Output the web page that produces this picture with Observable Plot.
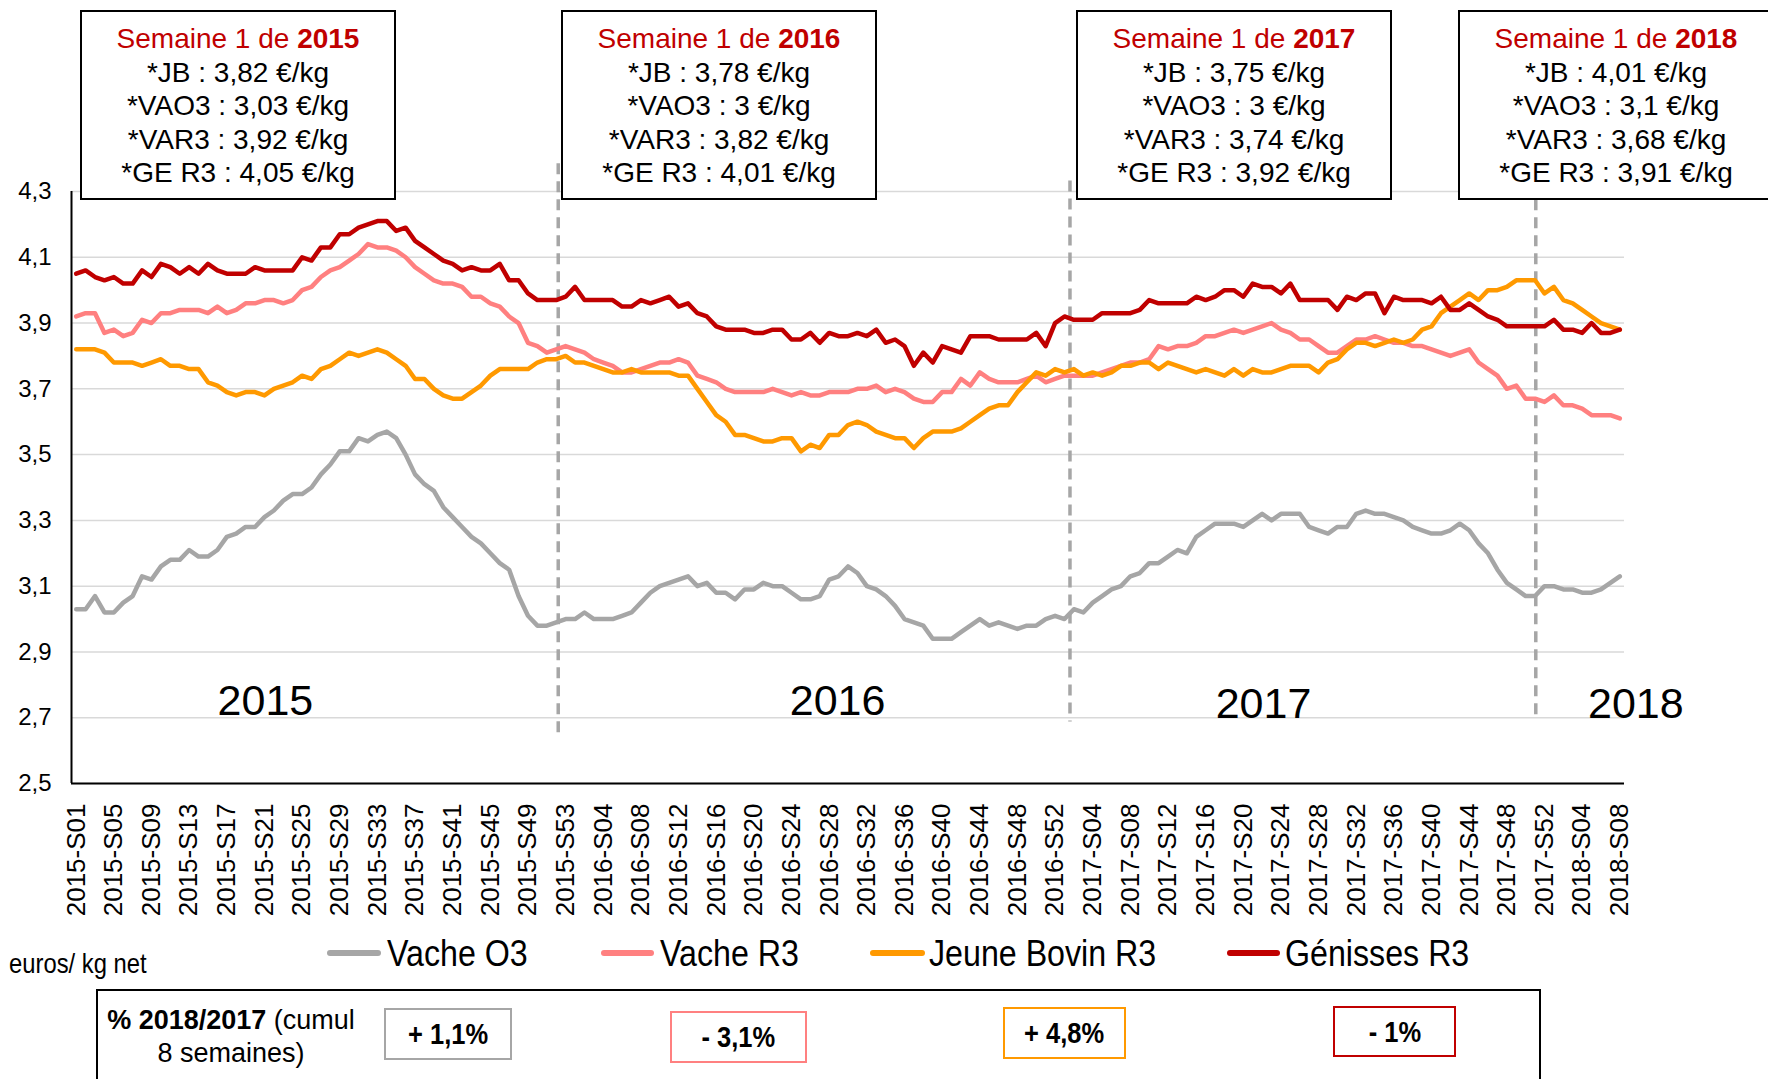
<!DOCTYPE html>
<html><head><meta charset="utf-8">
<script src="https://cdn.jsdelivr.net/npm/d3@7"></script>
<script src="https://cdn.jsdelivr.net/npm/@observablehq/plot@0.6"></script>
<style>
html,body{margin:0;padding:0;background:#fff;}
body{width:1768px;height:1079px;position:relative;overflow:hidden;font-family:"Liberation Sans",Arial,sans-serif;color:#000;}
#chart{position:absolute;left:0;top:0;}
.box{position:absolute;top:10px;height:190px;width:316px;box-sizing:border-box;border:2px solid #000;background:#fff;text-align:center;font-size:28px;line-height:33.5px;padding-top:10px;white-space:nowrap;}
.box .t{color:#C00000;}
.leg{position:absolute;top:953px;transform:translateY(-50%) scaleX(0.87);transform-origin:left center;font-size:37px;white-space:nowrap;line-height:1;}
.sw{position:absolute;top:950px;height:6px;border-radius:3px;}
.unit{position:absolute;left:9px;top:964px;transform:translateY(-50%) scaleX(0.85);transform-origin:left center;font-size:28px;white-space:nowrap;line-height:1;}
.bottom{position:absolute;left:96px;top:989px;width:1445px;height:120px;box-sizing:border-box;border:2px solid #000;background:#fff;}
.cum{position:absolute;left:231px;top:1004px;transform:translateX(-50%);font-size:27px;line-height:33px;text-align:center;white-space:nowrap;}
.chg{position:absolute;box-sizing:border-box;border:2px solid;display:flex;align-items:center;justify-content:center;font-weight:bold;font-size:30px;background:#fff;}
.chg span{display:inline-block;transform:scaleX(0.85);white-space:nowrap;}
</style>
</head><body>
<div id="chart"></div>
<script>
// ---- categories ----
const yearWeeks = [[2015, 53], [2016, 52], [2017, 52], [2018, 8]];
const weeks = yearWeeks.flatMap(([y, n]) => d3.range(1, n + 1).map(w => `${y}-S${String(w).padStart(2, "0")}`));
const tickWeeks = weeks.filter((w, i) => i % 4 === 0);
const yTicks = [2.5, 2.7, 2.9, 3.1, 3.3, 3.5, 3.7, 3.9, 4.1, 4.3];

// ---- series (euros / kg net) ----
const vacheO3 = [3.03,3.03,3.07,3.02,3.02,3.05,3.07,3.13,3.12,3.16,3.18,3.18,3.21,3.19,3.19,3.21,3.25,3.26,3.28,3.28,3.31,3.33,3.36,3.38,3.38,3.40,3.44,3.47,
3.51,3.51,3.55,3.54,3.56,3.57,3.55,3.50,3.44,3.41,3.39,3.34,3.31,3.28,3.25,3.23,3.20,3.17,3.15,3.07,3.01,2.98,2.98,2.99,3.00,3.00,3.02,3.00,3.00,3.00,3.01,3.02,3.05,
3.08,3.10,3.11,3.12,3.13,3.10,3.11,3.08,3.08,3.06,3.09,3.09,3.11,3.10,3.10,3.08,3.06,3.06,3.07,3.12,3.13,3.16,3.14,3.10,3.09,3.07,3.04,3.00,2.99,2.98,2.94,2.94,2.94,2.96,2.98,
3.00,2.98,2.99,2.98,2.97,2.98,2.98,3.00,3.01,3.00,3.03,3.02,3.05,3.07,3.09,3.10,3.13,3.14,3.17,3.17,3.19,3.21,3.20,3.25,3.27,3.29,3.29,3.29,3.28,3.30,3.32,3.30,3.32,3.32,3.32,
3.28,3.27,3.26,3.28,3.28,3.32,3.33,3.32,3.32,3.31,3.30,3.28,3.27,3.26,3.26,3.27,3.29,3.27,3.23,3.20,3.15,3.11,3.09,3.07,3.07,3.10,3.10,3.09,3.09,3.08,3.08,3.09,3.11,3.13];
const vacheR3 = [3.92,3.93,3.93,3.87,3.88,3.86,3.87,3.91,3.90,3.93,3.93,3.94,3.94,3.94,3.93,3.95,3.93,3.94,3.96,3.96,3.97,3.97,3.96,3.97,4.00,4.01,4.04,4.06,
4.07,4.09,4.11,4.14,4.13,4.13,4.12,4.10,4.07,4.05,4.03,4.02,4.02,4.01,3.98,3.98,3.96,3.95,3.92,3.90,3.84,3.83,3.81,3.82,3.83,3.82,3.81,3.79,3.78,3.77,3.75,3.75,3.76,
3.77,3.78,3.78,3.79,3.78,3.74,3.73,3.72,3.70,3.69,3.69,3.69,3.69,3.70,3.69,3.68,3.69,3.68,3.68,3.69,3.69,3.69,3.70,3.70,3.71,3.69,3.70,3.69,3.67,3.66,3.66,3.69,3.69,3.73,3.71,
3.75,3.73,3.72,3.72,3.72,3.73,3.74,3.72,3.73,3.74,3.74,3.74,3.74,3.75,3.76,3.77,3.78,3.78,3.79,3.83,3.82,3.83,3.83,3.84,3.86,3.86,3.87,3.88,3.87,3.88,3.89,3.90,3.88,3.87,3.85,
3.85,3.83,3.81,3.81,3.83,3.85,3.85,3.86,3.85,3.84,3.84,3.83,3.83,3.82,3.81,3.80,3.81,3.82,3.78,3.76,3.74,3.70,3.71,3.67,3.67,3.66,3.68,3.65,3.65,3.64,3.62,3.62,3.62,3.61];
const jeuneBovinR3 = [3.82,3.82,3.82,3.81,3.78,3.78,3.78,3.77,3.78,3.79,3.77,3.77,3.76,3.76,3.72,3.71,3.69,3.68,3.69,3.69,3.68,3.70,3.71,3.72,3.74,3.73,3.76,3.77,
3.79,3.81,3.80,3.81,3.82,3.81,3.79,3.77,3.73,3.73,3.70,3.68,3.67,3.67,3.69,3.71,3.74,3.76,3.76,3.76,3.76,3.78,3.79,3.79,3.80,3.78,3.78,3.77,3.76,3.75,3.75,3.76,3.75,
3.75,3.75,3.75,3.74,3.74,3.70,3.66,3.62,3.60,3.56,3.56,3.55,3.54,3.54,3.55,3.55,3.51,3.53,3.52,3.56,3.56,3.59,3.60,3.59,3.57,3.56,3.55,3.55,3.52,3.55,3.57,3.57,3.57,3.58,3.60,
3.62,3.64,3.65,3.65,3.69,3.72,3.75,3.74,3.76,3.75,3.76,3.74,3.75,3.74,3.75,3.77,3.77,3.78,3.78,3.76,3.78,3.77,3.76,3.75,3.76,3.75,3.74,3.76,3.74,3.76,3.75,3.75,3.76,3.77,3.77,
3.77,3.75,3.78,3.79,3.82,3.84,3.84,3.83,3.84,3.85,3.84,3.85,3.88,3.89,3.93,3.95,3.97,3.99,3.97,4.00,4.00,4.01,4.03,4.03,4.03,3.99,4.01,3.97,3.96,3.94,3.92,3.90,3.89,3.88];
const genissesR3 = [4.05,4.06,4.04,4.03,4.04,4.02,4.02,4.06,4.04,4.08,4.07,4.05,4.07,4.05,4.08,4.06,4.05,4.05,4.05,4.07,4.06,4.06,4.06,4.06,4.10,4.09,4.13,4.13,
4.17,4.17,4.19,4.20,4.21,4.21,4.18,4.19,4.15,4.13,4.11,4.09,4.08,4.06,4.07,4.06,4.06,4.08,4.03,4.03,3.99,3.97,3.97,3.97,3.98,4.01,3.97,3.97,3.97,3.97,3.95,3.95,3.97,
3.96,3.97,3.98,3.95,3.96,3.93,3.92,3.89,3.88,3.88,3.88,3.87,3.87,3.88,3.88,3.85,3.85,3.87,3.84,3.87,3.86,3.86,3.87,3.86,3.88,3.84,3.85,3.83,3.77,3.81,3.78,3.83,3.82,3.81,3.86,
3.86,3.86,3.85,3.85,3.85,3.85,3.87,3.83,3.90,3.92,3.91,3.91,3.91,3.93,3.93,3.93,3.93,3.94,3.97,3.96,3.96,3.96,3.96,3.98,3.97,3.98,4.00,4.00,3.98,4.02,4.01,4.01,3.99,4.02,3.97,
3.97,3.97,3.97,3.94,3.98,3.97,3.99,3.99,3.93,3.98,3.97,3.97,3.97,3.96,3.98,3.94,3.94,3.96,3.94,3.92,3.91,3.89,3.89,3.89,3.89,3.89,3.91,3.88,3.88,3.87,3.90,3.87,3.87,3.88];

const seriesNames = ["Vache O3", "Vache R3", "Jeune Bovin R3", "Génisses R3"];
const seriesColors = ["#A6A6A6", "#FF8080", "#FF9900", "#C00000"];
const seriesValues = [vacheO3, vacheR3, jeuneBovinR3, genissesR3];

// ---- annotations ----
const yearLabels = ["2015", "2016", "2017", "2018"];
const yearAnchorWeeks = ["2015-S21", "2016-S29", "2017-S22", "2018-S08"];
const yearLabelY = [2.707, 2.707, 2.698, 2.698];
const dividerWeeks = ["2015-S52", "2017-S01", "2017-S51"];
const dividerTop = [4.384, 4.332, 4.33];
const dividerBottom = [2.653, 2.687, 2.698];

const boxYears = ["2015", "2016", "2017", "2018"];
const boxJB = ["3,82", "3,78", "3,75", "4,01"];
const boxVAO3 = ["3,03", "3", "3", "3,1"];
const boxVAR3 = ["3,92", "3,82", "3,74", "3,68"];
const boxGER3 = ["4,05", "4,01", "3,92", "3,91"];

const changeLabels = ["+ 1,1%", "- 3,1%", "+ 4,8%", "- 1%"];

// ---- chart ----
const W = 1768, H = 935, mL = 71, mR = 144, mT = 191, mB = 152;
const step = (W - mL - mR) / weeks.length;

const lineMarks = seriesValues.map((vals, k) =>
  Plot.line(weeks.map((w, i) => ({week: w, value: vals[i]})), {
    x: "week", y: "value", stroke: seriesColors[k], strokeWidth: 4.5,
    strokeLinejoin: "round", strokeLinecap: "round"
  })
);

const dividerData = dividerWeeks.map((w, i) => ({week: w, y1: dividerTop[i], y2: dividerBottom[i]}));
const dividerDx = [2, 5.5, 0.7];
const dividerMarks = dividerData.map((d, i) => Plot.ruleX([d], {
  x: "week", y1: "y1", y2: "y2", dx: dividerDx[i],
  stroke: "#A6A6A6", strokeWidth: 3.5, strokeDasharray: "11,7"
}));

const yearDx = [1, -1, 1.4, 16];
const yearMarks = yearLabels.map((t, i) => Plot.text([{week: yearAnchorWeeks[i], y: yearLabelY[i], t}], {
  x: "week", y: "y", text: "t", dx: yearDx[i], fontSize: 43, textAnchor: "middle", lineAnchor: "bottom", fill: "#000"
}));

const chart = Plot.plot({
  width: W, height: H,
  marginLeft: mL, marginRight: mR, marginTop: mT, marginBottom: mB,
  x: {type: "point", domain: weeks, padding: 0.5},
  y: {domain: [2.5, 4.3]},
  style: {fontFamily: '"Liberation Sans", Arial, sans-serif', fontSize: "24px", color: "#000", background: "transparent", overflow: "visible"},
  marks: [
    Plot.gridY({ticks: yTicks, stroke: "#D9D9D9", strokeOpacity: 1, strokeWidth: 1.5}),
    Plot.axisY({ticks: yTicks, tickFormat: d => d.toFixed(1).replace(".", ","), tickSize: 0, tickPadding: 20, label: null, fontSize: 24}),
    Plot.axisX({ticks: tickWeeks, tickRotate: -90, tickSize: 0, tickPadding: 20, label: null, fontSize: 26}),
    ...dividerMarks,
    ...yearMarks,
    ...lineMarks,
    Plot.ruleY([2.5], {stroke: "#000", strokeWidth: 2}),
    Plot.ruleX([weeks[0]], {y1: 2.5, y2: 4.3, dx: -step / 2, stroke: "#000", strokeWidth: 2})
  ]
});
document.getElementById("chart").appendChild(chart);

// ---- top boxes ----
const boxLeft = [80, 561, 1076, 1458];
boxYears.forEach((yr, i) => {
  const d = document.createElement("div");
  d.className = "box";
  d.style.left = boxLeft[i] + "px";
  d.innerHTML = `<div class="t">Semaine 1 de <b>${yr}</b></div>` +
    `<div>*JB : ${boxJB[i]} €/kg</div>` +
    `<div>*VAO3 : ${boxVAO3[i]} €/kg</div>` +
    `<div>*VAR3 : ${boxVAR3[i]} €/kg</div>` +
    `<div>*GE R3 : ${boxGER3[i]} €/kg</div>`;
  document.body.appendChild(d);
});

// ---- legend ----
const swLeft = [327, 601, 870, 1227];
const swWidth = [54, 53, 55, 53];
const legTextLeft = [387, 660, 929, 1285];
seriesNames.forEach((n, i) => {
  const s = document.createElement("div");
  s.className = "sw";
  s.style.left = swLeft[i] + "px"; s.style.width = swWidth[i] + "px"; s.style.background = seriesColors[i];
  document.body.appendChild(s);
  const t = document.createElement("div");
  t.className = "leg";
  t.style.left = legTextLeft[i] + "px";
  t.textContent = n;
  document.body.appendChild(t);
});
const unit = document.createElement("div");
unit.className = "unit";
unit.textContent = "euros/ kg net";
document.body.appendChild(unit);

// ---- bottom box ----
const bottom = document.createElement("div");
bottom.className = "bottom";
document.body.appendChild(bottom);
const cum = document.createElement("div");
cum.className = "cum";
cum.innerHTML = `<b>% 2018/2017</b> (cumul<br>8 semaines)`;
document.body.appendChild(cum);
const chgBox = [[384, 1008, 128, 52], [670, 1011, 137, 52], [1003, 1007, 123, 52], [1333, 1006, 123, 51]];
changeLabels.forEach((c, i) => {
  const d = document.createElement("div");
  d.className = "chg";
  const [l, t, w, h] = chgBox[i];
  d.style.left = l + "px"; d.style.top = t + "px"; d.style.width = w + "px"; d.style.height = h + "px";
  d.style.borderColor = seriesColors[i];
  const sp = document.createElement("span");
  sp.textContent = c;
  d.appendChild(sp);
  document.body.appendChild(d);
});
</script>
</body></html>
